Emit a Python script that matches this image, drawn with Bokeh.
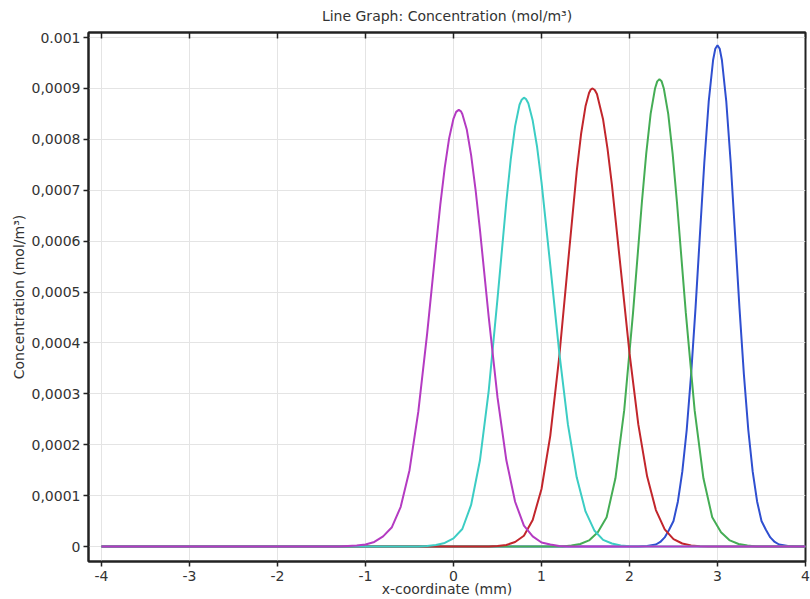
from bokeh.plotting import figure
from bokeh.models import Range1d, LinearAxis, FixedTicker
from bokeh.embed import file_html
from bokeh.resources import INLINE

# ---- data (x in mm, concentration in mol/m^3) ----
x_magenta = [-4, -1.3, -1.2, -1.1, -1.0, -0.9, -0.8, -0.7, -0.6, -0.5, -0.4, -0.3, -0.2, -0.15, -0.1,
             -0.05, 0.0, 0.03, 0.06, 0.085, 0.1, 0.15,
             0.2, 0.25, 0.3, 0.4, 0.5, 0.6, 0.7, 0.8, 0.9, 1.0, 1.1, 1.2, 1.3, 4]
c_magenta = [0, 0, 0.000001, 0.000002, 0.000004, 0.000009, 0.00002, 0.000038, 0.000078, 0.00015, 0.000265,
             0.000418, 0.000589, 0.000672, 0.000744,
             0.000802, 0.000841, 0.000854, 0.000858, 0.000855, 0.00085, 0.00082,
             0.000769, 0.000702, 0.000623, 0.000451, 0.000293, 0.00017, 0.000088, 0.000041, 0.00002,
             0.000008, 0.000004, 0.000001, 0, 0]

x_cyan = [-4, -0.4, -0.3, -0.2, -0.1, 0.0, 0.1, 0.2, 0.3, 0.4, 0.5, 0.6, 0.65, 0.7,
          0.75, 0.775, 0.8, 0.825, 0.85,
          0.9, 0.95, 1.0, 1.1, 1.2, 1.3, 1.4, 1.5, 1.6, 1.7, 1.8, 1.9, 2.0, 2.1, 4]
c_cyan = [0, 0, 0.000001, 0.000003, 0.000007, 0.000016, 0.0000345, 0.0000817, 0.000169, 0.000306,
          0.000487, 0.000677, 0.00076, 0.000826,
          0.000868, 0.000878, 0.000882, 0.000879, 0.000871,
          0.000837, 0.000785, 0.000716, 0.000552, 0.000384, 0.00024, 0.000136, 0.000069, 0.0000316,
          0.000013, 0.000006, 0.000002, 0.0000005, 0, 0]

x_red = [-4, 0.4, 0.5, 0.6, 0.7, 0.8, 0.9, 1.0, 1.1, 1.2, 1.3, 1.4, 1.45, 1.5,
         1.54, 1.56, 1.58, 1.605, 1.63,
         1.7, 1.75, 1.8, 1.9, 2.0, 2.1, 2.2, 2.3, 2.4, 2.5, 2.6, 2.7, 2.8, 2.9, 4]
c_red = [0, 0, 0.000001, 0.000003, 0.000009, 0.0000213, 0.0000523, 0.000113, 0.000218, 0.00037,
         0.000555, 0.000737, 0.000811, 0.000865,
         0.000891, 0.000898, 0.0009, 0.000897, 0.000889,
         0.000839, 0.000782, 0.000711, 0.000546, 0.00038, 0.00024, 0.000138, 0.0000716, 0.0000338,
         0.0000144, 0.000006, 0.000002, 0.0000005, 0, 0]

x_green = [-4, 1.24, 1.34, 1.44, 1.54, 1.64, 1.74, 1.84, 1.94, 2.04, 2.14, 2.19, 2.24, 2.29, 2.315,
           2.34, 2.365, 2.39, 2.44, 2.49, 2.54, 2.64, 2.74, 2.84, 2.94, 3.04, 3.14, 3.24, 3.34, 3.44, 4]
c_green = [0, 0, 0.000002, 0.000005, 0.000012, 0.000028, 0.0000576, 0.000134, 0.000268, 0.000459,
           0.000675, 0.000772, 0.00085, 0.0009, 0.000914,
           0.000918, 0.000914, 0.0009, 0.00085, 0.000772, 0.000675, 0.000459, 0.000268, 0.000134,
           0.0000576, 0.000028, 0.000012, 0.000005, 0.000002, 0, 0]

x_blue = [-4, 2.1, 2.2, 2.3, 2.35, 2.4, 2.45, 2.5, 2.55, 2.6, 2.65, 2.7, 2.75, 2.8, 2.85, 2.9, 2.95,
          2.975, 3.0, 3.025, 3.05, 3.1, 3.15, 3.2, 3.25, 3.3, 3.35, 3.4, 3.45, 3.5, 3.55, 3.6, 3.65,
          3.7, 3.8, 3.9, 4]
c_blue = [0, 0, 0.000001, 0.000004, 0.000009, 0.000018, 0.000033, 0.0000503, 0.0000886, 0.000147,
          0.000229, 0.000338, 0.000468, 0.000612, 0.000754, 0.000874, 0.000956,
          0.000978, 0.000985, 0.000978, 0.000956, 0.000874, 0.000754, 0.000612, 0.000468, 0.000338,
          0.000229, 0.000147, 0.0000886, 0.0000503, 0.000033, 0.000018, 0.000009,
          0.000004, 0.000001, 0, 0]

x_ticks = [-4, -3, -2, -1, 0, 1, 2, 3, 4]
x_tick_labels = ["-4", "-3", "-2", "-1", "0", "1", "2", "3", "4"]
y_ticks = [0.0, 0.0001, 0.0002, 0.0003, 0.0004, 0.0005, 0.0006, 0.0007, 0.0008, 0.0009, 0.001]
y_tick_labels = ["0", "0,0001", "0,0002", "0,0003", "0,0004", "0,0005", "0,0006", "0,0007",
                 "0,0008", "0,0009", "0.001"]

title_text = "Line Graph: Concentration (mol/m\u00b3)"
x_label = "x-coordinate (mm)"
y_label = "Concentration (mol/m\u00b3)"

FONT = "DejaVu Sans"
TXT = "#333333"

p = figure(width=810, height=599, output_backend="svg", toolbar_location=None,
           x_range=Range1d(-4.148, 4.0), y_range=Range1d(-0.0000294, 0.00101),
           min_border_left=88, min_border_right=5, min_border_top=32, min_border_bottom=37,
           title=title_text)

p.title.align = "center"
p.title.vertical_align = "top"
p.title.text_font = FONT
p.title.text_font_size = "14px"
p.title.text_font_style = "normal"
p.title.text_color = TXT
p.title.standoff = 14

p.outline_line_color = "#222222"
p.outline_line_width = 2
p.background_fill_color = "white"
p.border_fill_color = "white"

p.xgrid.ticker = FixedTicker(ticks=x_ticks)
p.ygrid.ticker = FixedTicker(ticks=y_ticks)
p.grid.grid_line_color = "#e4e4e4"
p.grid.grid_line_width = 1

xa = p.xaxis[0]
xa.ticker = FixedTicker(ticks=x_ticks)
xa.axis_label = x_label
xa.major_label_overrides = {v: s for v, s in zip(x_ticks, x_tick_labels)}
ya = p.yaxis[0]
ya.ticker = FixedTicker(ticks=y_ticks)
ya.axis_label = y_label
ya.major_label_overrides = {v: s for v, s in zip(y_ticks, y_tick_labels)}

for ax in (xa, ya):
    ax.axis_line_color = "#222222"
    ax.axis_line_width = 2
    ax.major_tick_line_color = "#222222"
    ax.major_tick_line_width = 1.5
    ax.major_tick_out = 5
    ax.major_tick_in = 0
    ax.minor_tick_line_color = None
    ax.major_label_text_font = FONT
    ax.major_label_text_font_size = "14px"
    ax.major_label_text_color = TXT
    ax.axis_label_text_font = FONT
    ax.axis_label_text_font_size = "14px"
    ax.axis_label_text_font_style = "normal"
    ax.axis_label_text_color = TXT
xa.major_label_standoff = 4
xa.axis_label_standoff = -3
ya.major_label_standoff = 3
ya.axis_label_standoff = 2

top = LinearAxis(ticker=FixedTicker(ticks=x_ticks),
                 major_label_overrides={v: "" for v in x_ticks},
                 major_label_standoff=0, axis_line_color="#222222", axis_line_width=2,
                 major_tick_in=6, major_tick_out=0, major_tick_line_color="#222222",
                 major_tick_line_width=1.5, minor_tick_line_color=None)
p.add_layout(top, "above")

series = [
    (x_blue, c_blue, "#2f4fd0"),
    (x_green, c_green, "#45ad55"),
    (x_red, c_red, "#c2262c"),
    (x_cyan, c_cyan, "#3ccdc4"),
    (x_magenta, c_magenta, "#b43bc2"),
]
for xs, cs, col in series:
    p.line(xs, cs, line_color=col, line_width=2)

open("out.html", "w").write(file_html(p, INLINE))
